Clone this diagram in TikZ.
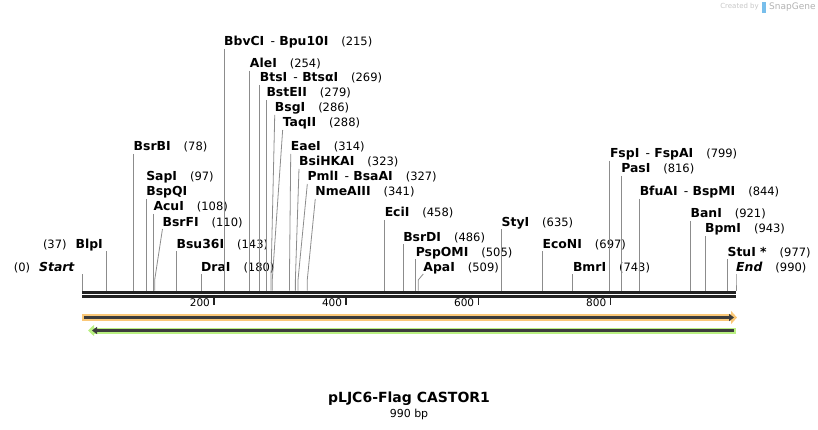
\documentclass[tikz,border=0pt]{standalone}
\usepackage{fontspec}
\setmainfont{DejaVu Sans}
\usetikzlibrary{arrows.meta}
\definecolor{cutgray}{RGB}{140,140,140}
\definecolor{seqblack}{RGB}{34,34,34}
\definecolor{fwdorange}{RGB}{250,200,120}
\definecolor{revgreen}{RGB}{185,240,130}
\definecolor{featdark}{RGB}{60,60,60}
\definecolor{sglogo}{RGB}{120,190,235}
\newcommand{\cutpos}[1]{{\fontsize{11.5}{14}\selectfont\mdseries(#1)}}

\begin{document}
\begin{tikzpicture}[x=1pt,y=-1pt,
 enz/.style={anchor=base west,inner sep=0pt,font=\fontsize{12.4}{14}\selectfont\bfseries},
 enzleft/.style={enz,anchor=base east},
 cutline/.style={draw=cutgray,line width=0.8pt},
 ticklbl/.style={anchor=east,inner sep=0pt,font=\fontsize{10.5}{12}\selectfont},
 seqline/.style={draw=seqblack,line width=2.6pt},
 tickmark/.style={draw=seqblack,line width=1.6pt}]
\useasboundingbox (0,0) rectangle (818,430);

\coordinate (seqL) at (82,292.2);
\coordinate (seqR) at (736,292.2);
\draw[seqline] (seqL) -- (seqR);
\draw[seqline] ([yshift=-4pt]seqL) -- ([yshift=-4pt]seqR);
\foreach \t in {200,400,600,800}{
 \pgfmathsetmacro{\tx}{82+\t*0.660606}
 \coordinate (t\t) at (\tx,297);
 \draw[tickmark] (t\t) -- ++(0,7.5);
 \node[ticklbl] (tl\t) at (\tx-4,303) {\t};
}

\foreach \pos/\dx/\ly/\name/\num [count=\k] in {
 78/0/147/BsrBI/78, 108/0/207/AcuI/108, 110/7.8/222/BsrFI/110,
 143/0/244/Bsu36I/143, 180/0/267/DraI/180,
 215/0/42/{BbvCI\enspace\textmd{-} Bpu10I}/215, 254/0/64/AleI/254,
 269/0/78/{BtsI\enspace\textmd{-} BtsαI}/269, 279/0/93/BstEII/279,
 286/3.8/108/BsgI/286, 288/10.4/123/TaqII/288, 314/1.3/147/EaeI/314,
 323/3.6/162/BsiHKAI/323, 327/9.3/177/{PmlI\enspace\textmd{-} BsaAI}/327,
 341/8/192/NmeAIII/341, 458/0/213/EciI/458, 486/0/237/BsrDI/486,
 505/0/252/PspOMI/505, 509/5/267/ApaI/509, 635/0/222/StyI/635,
 697/0/244/EcoNI/697, 743/0/267/BmrI/743,
 799/0/154/{FspI\enspace\textmd{-} FspAI}/799, 816/0/169/PasI/816,
 844/0/192/{BfuAI\enspace\textmd{-} BspMI}/844, 921/0/214/BanI/921,
 943/0/229/BpmI/943, 977/0/252/{StuI *}/977, 990/0/267/\textit{End}/990}
{
 \pgfmathsetmacro{\px}{82+\pos*0.660606}
 \coordinate (s\k) at (\px,290.5);
 \coordinate (b\k) at (\px,280);
 \node[enz] (e\k) at (\px+\dx,\ly+4) {\name\hspace{13pt}\cutpos{\num}};
 \draw[cutline] (e\k.base west) ++(0,3) -- (b\k) -- (s\k);
}

\node[enz] (sapi) at (146.1,181) {SapI\hspace{13pt}\cutpos{97}};
\node[enz] (bspqi) at (146.1,196) {BspQI};
\coordinate (sbsp) at (146.1,290.5);
\draw[cutline] (bspqi.base west) ++(0,3) -- (sbsp);

\node[enzleft] (start) at (75,271) {\cutpos{0}\hspace{9pt}\textit{Start}};
\coordinate (sstart) at (82,290.5);
\draw[cutline] (sstart |- start.base) ++(0,3) -- (sstart);
\node[enzleft] (blpi) at (103,248) {\cutpos{37}\hspace{9pt}BlpI};
\coordinate (sblpi) at (106.4,290.5);
\draw[cutline] (sblpi |- blpi.base) ++(0,3) -- (sblpi);

\coordinate (fwdL) at (82,317.5);
\coordinate (fwdR) at (737,317.5);
\draw[line width=7.5pt,fwdorange,-{Triangle[length=6pt,width=13pt]}] (fwdL) -- (fwdR);
\draw[line width=2.4pt,featdark,-{Triangle[length=5pt,width=7pt]}] ([xshift=2pt]fwdL) -- ([xshift=-3pt]fwdR);
\coordinate (revR) at (736,330.5);
\coordinate (revL) at (88,330.5);
\draw[line width=6pt,revgreen,-{Triangle[length=6pt,width=11pt]}] (revR) -- (revL);
\draw[line width=2.4pt,featdark,-{Triangle[length=5pt,width=7pt]}] ([xshift=-2pt]revR) -- ([xshift=4pt]revL);

\node[font=\fontsize{14}{16}\selectfont\bfseries] (title) at (409,399) {pLJC6-Flag CASTOR1};
\node[font=\fontsize{11}{13}\selectfont] (size) at (409,414) {990 bp};

\node[anchor=east,inner sep=0pt,font=\fontsize{7}{8}\selectfont,text=gray!45] (wm) at (759,7) {Created by};
\fill[sglogo] (762,2) rectangle (766,13);
\node[anchor=west,inner sep=0pt,font=\fontsize{9}{10}\selectfont,text=gray!60] (sg) at (769,7) {SnapGene};
\end{tikzpicture}
\end{document}
